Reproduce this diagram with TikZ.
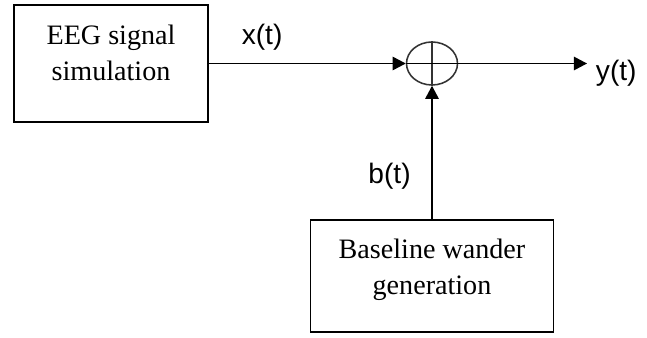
\documentclass[tikz,border=0pt]{standalone}
\usepackage{fontspec}
\setmainfont{Liberation Serif}
\newfontfamily\labelfont{Liberation Sans}
\usepackage{tikz}
\usetikzlibrary{arrows.meta, positioning, shapes.geometric}

\begin{document}
\begin{tikzpicture}[
    blk/.style={rectangle, draw=black, fill=white, line width=1.4pt, inner sep=0pt},
    blktxt/.style={align=center, font=\fontsize{20}{25.5}\selectfont, inner sep=0pt},
    sig/.style={font=\labelfont\fontsize{20}{24}\selectfont},
    summ/.style={ellipse, draw=black!80, line width=1.1pt, minimum width=1.275cm, minimum height=1.075cm, inner sep=0pt},
    arr/.style={draw=black, line width=1pt, -{Triangle[length=0.33cm, width=0.34cm]}}
]
    \useasboundingbox (0,0) rectangle (16.175,8.425);

    % Blocks
    \node[blk, minimum width=4.85cm, minimum height=2.925cm] (EEG) at (2.775, 6.8375) {};
    \node[blktxt] (EEGtxt) at ([yshift=0.275cm]EEG.center) {EEG signal\\simulation};

    \node[summ] (SUM) at (10.8, 6.8375) {};
    \draw[black!80, line width=1.1pt] (SUM.north) -- (SUM.south);

    \node[blk, minimum width=6.075cm, minimum height=2.8cm] (BW) at (10.8, 1.525) {};
    \node[blktxt] (BWtxt) at ([yshift=0.15cm]BW.center) {Baseline wander\\generation};

    \coordinate (OUT) at (14.675, 6.8375);
    \node[sig, anchor=west] (Y) at ([xshift=0.1cm, yshift=-0.25cm]OUT) {y(t)};

    % Connectors
    \draw[arr] (EEG.east) -- node[sig, pos=0.27, above=0.2cm] (X) {x(t)} (SUM.west);
    \draw[black, line width=1pt] (SUM.west) -- (SUM.east);
    \draw[arr] (SUM.east) -- (OUT);
    \draw[arr] (BW.north) -- node[sig, pos=0.32, left=0.4cm] (B) {b(t)} (SUM.south);
\end{tikzpicture}
\end{document}
